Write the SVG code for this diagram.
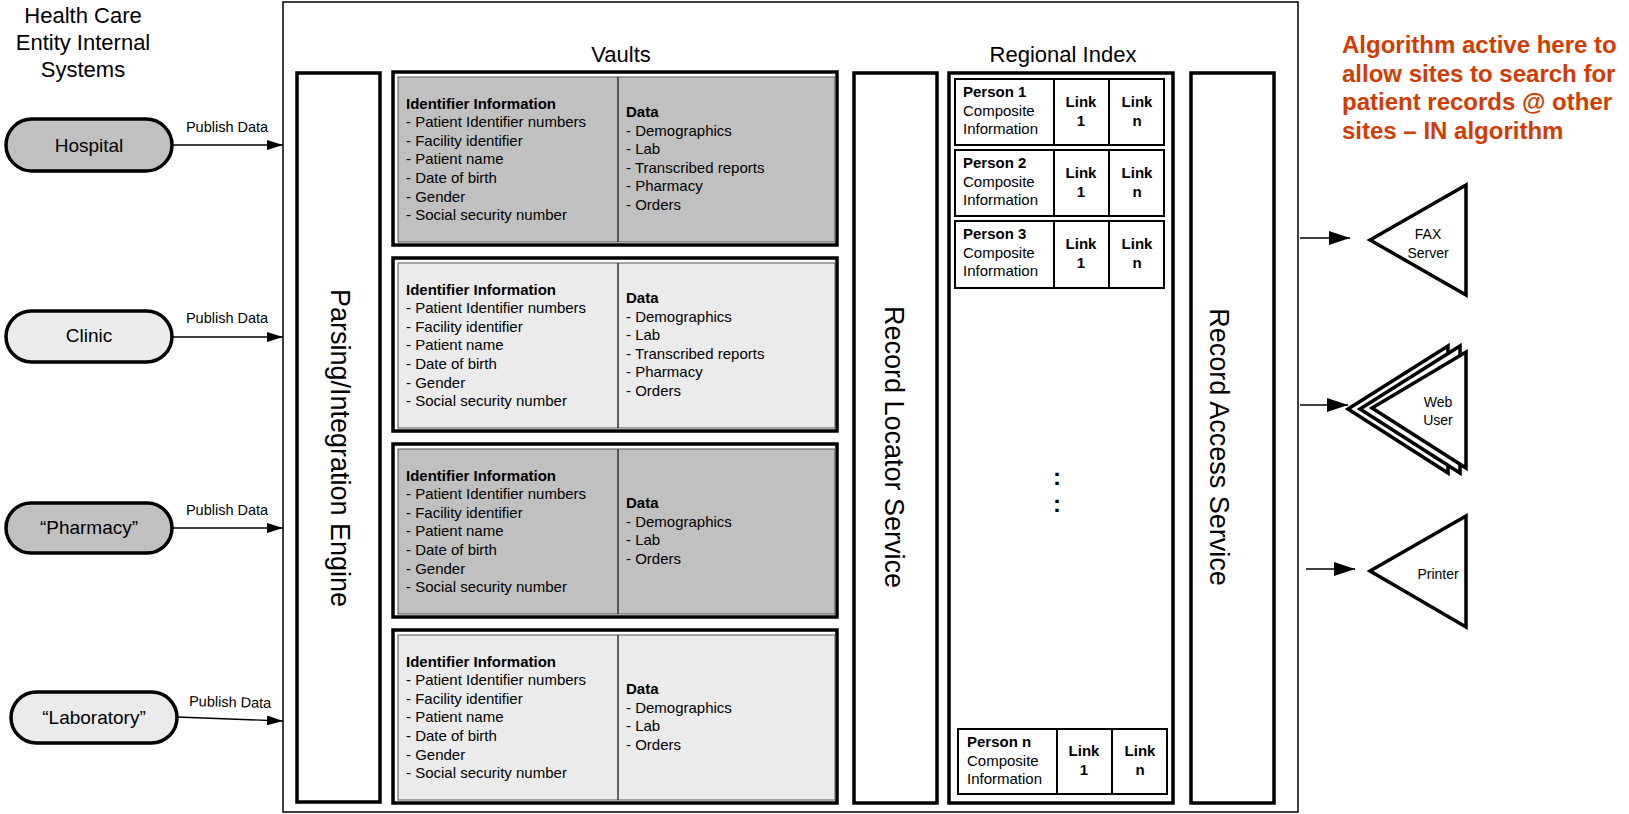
<svg xmlns="http://www.w3.org/2000/svg" width="1629" height="814" viewBox="0 0 1629 814">
<style>
text{font-family:"Liberation Sans",Arial,sans-serif;fill:#000}
.h{font-size:22px}
.pill{stroke:#000;stroke-width:3.5}
.dark{fill:#c0c0c0}
.light{fill:#ebebeb}
.pl{font-size:19px;text-anchor:middle}
.pub{font-size:14.5px;text-anchor:middle}
.col{fill:#fff;stroke:#000;stroke-width:3.5}
.vt{font-size:27px;text-anchor:middle}
.vo{fill:#fff;stroke:#000;stroke-width:3.5}
.vi{stroke:#555;stroke-width:1}
.vd{stroke:#333;stroke-width:1.5}
.t15{font-size:15px}
.b{font-weight:bold}
.row{fill:#fff;stroke:#000;stroke-width:2}
.lk{font-size:15px;font-weight:bold;text-anchor:middle}
.dots{font-size:24px;font-weight:bold;text-anchor:middle}
.tri{fill:#fff;stroke:#000;stroke-width:3.5;stroke-linejoin:miter}
.tl{font-size:14px;text-anchor:middle}
.con{stroke:#000;stroke-width:1.3;fill:none}
.org{font-size:24px;font-weight:bold;fill:#d23c00}
</style>
<defs>
<marker id="a1" markerUnits="userSpaceOnUse" markerWidth="16" markerHeight="10" refX="16" refY="5" orient="auto"><path d="M0,0 L16,5 L0,10 z" fill="#000"/></marker>
<marker id="a2" markerUnits="userSpaceOnUse" markerWidth="21" markerHeight="14" refX="21" refY="7" orient="auto"><path d="M0,0 L21,7 L0,14 z" fill="#000"/></marker>
</defs>
<rect width="1629" height="814" fill="#fff"/>

<g id="heading-left">
<text class="h" x="83" y="23" text-anchor="middle">Health Care</text>
<text class="h" x="83" y="50" text-anchor="middle">Entity Internal</text>
<text class="h" x="83" y="77" text-anchor="middle">Systems</text>
</g>

<g id="outer-frame"><rect x="283" y="2" width="1015" height="810" fill="none" stroke="#000" stroke-width="1.5"/></g>

<g id="hospital"><rect class="pill dark" x="6" y="119" width="166" height="52" rx="26"/><text class="pl" x="89" y="152">Hospital</text></g>
<g id="clinic"><rect class="pill light" x="6" y="311" width="166" height="51" rx="25.5"/><text class="pl" x="89" y="342">Clinic</text></g>
<g id="pharmacy"><rect class="pill dark" x="6" y="503" width="166" height="50" rx="25"/><text class="pl" x="89" y="534">“Pharmacy”</text></g>
<g id="laboratory"><rect class="pill light" x="11" y="692" width="166" height="51" rx="25.5"/><text class="pl" x="94" y="724">“Laboratory”</text></g>

<g id="connectors">
<line class="con" x1="172" y1="145" x2="283" y2="145" marker-end="url(#a1)"/>
<line class="con" x1="172" y1="337" x2="283" y2="337" marker-end="url(#a1)"/>
<line class="con" x1="172" y1="528" x2="283" y2="528" marker-end="url(#a1)"/>
<line class="con" x1="177" y1="717" x2="283" y2="721" marker-end="url(#a1)"/>
<text class="pub" x="227" y="132">Publish Data</text>
<text class="pub" x="227" y="323">Publish Data</text>
<text class="pub" x="227" y="515">Publish Data</text>
<text class="pub" x="230" y="707" transform="rotate(1.5 230 707)">Publish Data</text>
<line class="con" x1="1300" y1="238" x2="1350" y2="238" marker-end="url(#a2)"/>
<line class="con" x1="1300" y1="405" x2="1348" y2="405" marker-end="url(#a2)"/>
<line class="con" x1="1306" y1="569" x2="1355" y2="569" marker-end="url(#a2)"/>
</g>

<g id="parsing-engine">
<rect class="col" x="297" y="73" width="83" height="729"/>
<text class="vt" transform="translate(340 448) rotate(90)" y="9">Parsing/Integration Engine</text>
</g>

<text class="h" x="621" y="62" text-anchor="middle">Vaults</text>

<g id="vault-1" transform="translate(0 72)">
<rect class="vo" x="393" y="0" width="444" height="173"/>
<rect class="vi dark" x="398" y="5" width="437" height="165"/>
<line class="vd" x1="618" y1="5" x2="618" y2="170"/>
<text class="t15" x="406" y="36.5"><tspan class="b">Identifier Information</tspan><tspan x="406" dy="18.6">- Patient Identifier numbers</tspan><tspan x="406" dy="18.6">- Facility identifier</tspan><tspan x="406" dy="18.6">- Patient name</tspan><tspan x="406" dy="18.6">- Date of birth</tspan><tspan x="406" dy="18.6">- Gender</tspan><tspan x="406" dy="18.6">- Social security number</tspan></text>
<text class="t15" x="626" y="45"><tspan class="b">Data</tspan><tspan x="626" dy="18.6">- Demographics</tspan><tspan x="626" dy="18.6">- Lab</tspan><tspan x="626" dy="18.6">- Transcribed reports</tspan><tspan x="626" dy="18.6">- Pharmacy</tspan><tspan x="626" dy="18.6">- Orders</tspan></text>
</g>

<g id="vault-2" transform="translate(0 258)">
<rect class="vo" x="393" y="0" width="444" height="173"/>
<rect class="vi light" x="398" y="5" width="437" height="165"/>
<line class="vd" x1="618" y1="5" x2="618" y2="170"/>
<text class="t15" x="406" y="36.5"><tspan class="b">Identifier Information</tspan><tspan x="406" dy="18.6">- Patient Identifier numbers</tspan><tspan x="406" dy="18.6">- Facility identifier</tspan><tspan x="406" dy="18.6">- Patient name</tspan><tspan x="406" dy="18.6">- Date of birth</tspan><tspan x="406" dy="18.6">- Gender</tspan><tspan x="406" dy="18.6">- Social security number</tspan></text>
<text class="t15" x="626" y="45"><tspan class="b">Data</tspan><tspan x="626" dy="18.6">- Demographics</tspan><tspan x="626" dy="18.6">- Lab</tspan><tspan x="626" dy="18.6">- Transcribed reports</tspan><tspan x="626" dy="18.6">- Pharmacy</tspan><tspan x="626" dy="18.6">- Orders</tspan></text>
</g>

<g id="vault-3" transform="translate(0 444)">
<rect class="vo" x="393" y="0" width="444" height="173"/>
<rect class="vi dark" x="398" y="5" width="437" height="165"/>
<line class="vd" x1="618" y1="5" x2="618" y2="170"/>
<text class="t15" x="406" y="36.5"><tspan class="b">Identifier Information</tspan><tspan x="406" dy="18.6">- Patient Identifier numbers</tspan><tspan x="406" dy="18.6">- Facility identifier</tspan><tspan x="406" dy="18.6">- Patient name</tspan><tspan x="406" dy="18.6">- Date of birth</tspan><tspan x="406" dy="18.6">- Gender</tspan><tspan x="406" dy="18.6">- Social security number</tspan></text>
<text class="t15" x="626" y="64"><tspan class="b">Data</tspan><tspan x="626" dy="18.6">- Demographics</tspan><tspan x="626" dy="18.6">- Lab</tspan><tspan x="626" dy="18.6">- Orders</tspan></text>
</g>

<g id="vault-4" transform="translate(0 630)">
<rect class="vo" x="393" y="0" width="444" height="173"/>
<rect class="vi light" x="398" y="5" width="437" height="165"/>
<line class="vd" x1="618" y1="5" x2="618" y2="170"/>
<text class="t15" x="406" y="36.5"><tspan class="b">Identifier Information</tspan><tspan x="406" dy="18.6">- Patient Identifier numbers</tspan><tspan x="406" dy="18.6">- Facility identifier</tspan><tspan x="406" dy="18.6">- Patient name</tspan><tspan x="406" dy="18.6">- Date of birth</tspan><tspan x="406" dy="18.6">- Gender</tspan><tspan x="406" dy="18.6">- Social security number</tspan></text>
<text class="t15" x="626" y="64"><tspan class="b">Data</tspan><tspan x="626" dy="18.6">- Demographics</tspan><tspan x="626" dy="18.6">- Lab</tspan><tspan x="626" dy="18.6">- Orders</tspan></text>
</g>

<g id="record-locator-service">
<rect class="col" x="854" y="73" width="83" height="730"/>
<text class="vt" transform="translate(895 447) rotate(90)" y="10">Record Locator Service</text>
</g>

<text class="h" x="1063" y="62" text-anchor="middle">Regional Index</text>

<g id="regional-index">
<rect class="col" x="949" y="73" width="224" height="730"/>
<text class="dots" x="1057" y="485">:</text>
<text class="dots" x="1057" y="512">:</text>
</g>

<g id="person-1" transform="translate(0 79)">
<rect class="row" x="955" y="0" width="209" height="66"/>
<line class="row" x1="1054" y1="0" x2="1054" y2="66"/><line class="row" x1="1109" y1="0" x2="1109" y2="66"/>
<text class="t15" x="963" y="18"><tspan class="b">Person 1</tspan><tspan x="963" dy="18.5">Composite</tspan><tspan x="963" dy="18.5">Information</tspan></text>
<text class="lk" x="1081" y="28">Link<tspan x="1081" dy="19">1</tspan></text>
<text class="lk" x="1137" y="28">Link<tspan x="1137" dy="19">n</tspan></text>
</g>
<g id="person-2" transform="translate(0 150)">
<rect class="row" x="955" y="0" width="209" height="66"/>
<line class="row" x1="1054" y1="0" x2="1054" y2="66"/><line class="row" x1="1109" y1="0" x2="1109" y2="66"/>
<text class="t15" x="963" y="18"><tspan class="b">Person 2</tspan><tspan x="963" dy="18.5">Composite</tspan><tspan x="963" dy="18.5">Information</tspan></text>
<text class="lk" x="1081" y="28">Link<tspan x="1081" dy="19">1</tspan></text>
<text class="lk" x="1137" y="28">Link<tspan x="1137" dy="19">n</tspan></text>
</g>
<g id="person-3" transform="translate(0 221)">
<rect class="row" x="955" y="0" width="209" height="67"/>
<line class="row" x1="1054" y1="0" x2="1054" y2="67"/><line class="row" x1="1109" y1="0" x2="1109" y2="67"/>
<text class="t15" x="963" y="18"><tspan class="b">Person 3</tspan><tspan x="963" dy="18.5">Composite</tspan><tspan x="963" dy="18.5">Information</tspan></text>
<text class="lk" x="1081" y="28">Link<tspan x="1081" dy="19">1</tspan></text>
<text class="lk" x="1137" y="28">Link<tspan x="1137" dy="19">n</tspan></text>
</g>
<g id="person-n" transform="translate(0 729)">
<rect class="row" x="958" y="0" width="209" height="65"/>
<line class="row" x1="1057" y1="0" x2="1057" y2="65"/><line class="row" x1="1112" y1="0" x2="1112" y2="65"/>
<text class="t15" x="967" y="18"><tspan class="b">Person n</tspan><tspan x="967" dy="18.5">Composite</tspan><tspan x="967" dy="18.5">Information</tspan></text>
<text class="lk" x="1084" y="27">Link<tspan x="1084" dy="19">1</tspan></text>
<text class="lk" x="1140" y="27">Link<tspan x="1140" dy="19">n</tspan></text>
</g>

<g id="record-access-service">
<rect class="col" x="1191" y="73" width="83" height="730"/>
<text class="vt" transform="translate(1220 447) rotate(90)" y="10">Record Access Service</text>
</g>

<g id="algorithm-note">
<text class="org" x="1342" y="53">Algorithm active here to</text>
<text class="org" x="1342" y="81.5">allow sites to search for</text>
<text class="org" x="1342" y="110">patient records @ other</text>
<text class="org" x="1342" y="138.5">sites – IN algorithm</text>
</g>

<g id="fax-server">
<polygon class="tri" points="1370,240 1466,185 1466,295"/>
<text class="tl" x="1428" y="239">FAX</text>
<text class="tl" x="1428" y="258">Server</text>
</g>

<g id="web-user">
<polygon class="tri" points="1348,409 1448,346 1448,473"/>
<polygon class="tri" points="1360,409 1460,346 1460,473"/>
<polygon class="tri" points="1372,408 1466,352 1466,468"/>
<text class="tl" x="1438" y="407">Web</text>
<text class="tl" x="1438" y="425">User</text>
</g>

<g id="printer">
<polygon class="tri" points="1370,571 1466,516 1466,627"/>
<text class="tl" x="1438" y="579">Printer</text>
</g>
</svg>
